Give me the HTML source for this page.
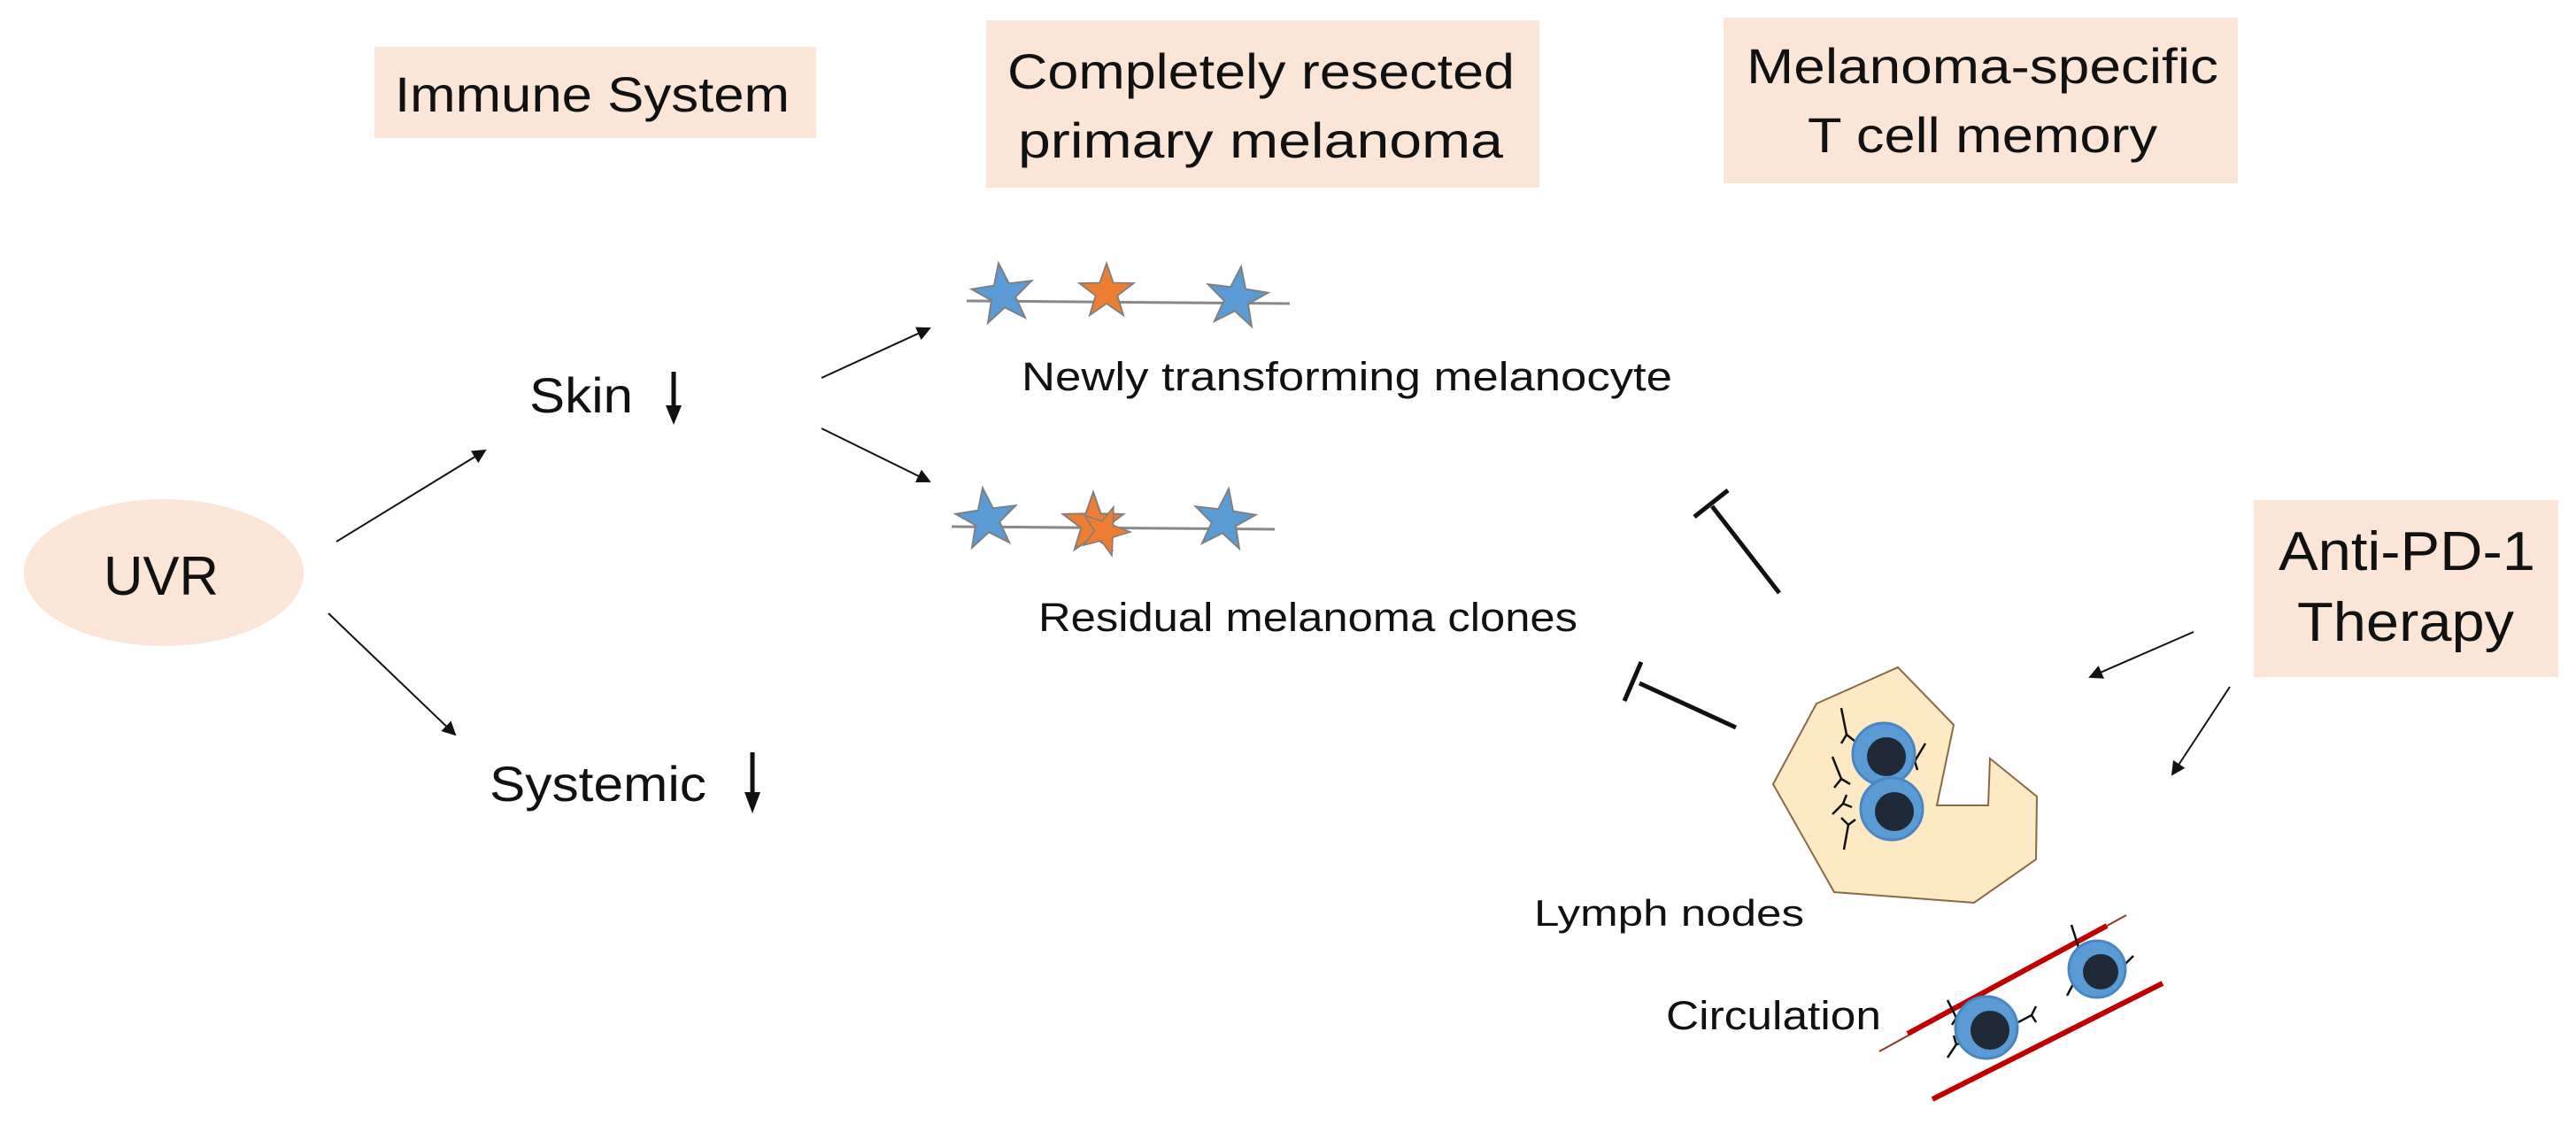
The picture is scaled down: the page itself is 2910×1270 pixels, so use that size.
<!DOCTYPE html>
<html><head><meta charset="utf-8"><style>
html,body{margin:0;padding:0;background:#fff;}
svg{display:block;}
text{font-family:"Liberation Sans",sans-serif;fill:#111;}
</style></head><body>
<svg width="2910" height="1270" viewBox="0 0 2910 1270" xmlns="http://www.w3.org/2000/svg">
<defs>
<marker id="ah" markerWidth="10" markerHeight="10" refX="9" refY="5" orient="auto" markerUnits="userSpaceOnUse">
<path d="M0,0 L10,5 L0,10 z" fill="#111"/></marker>
<marker id="ah2" markerWidth="16" markerHeight="16" refX="14" refY="8" orient="auto" markerUnits="userSpaceOnUse">
<path d="M0,0 L16,8 L0,16 z" fill="#111"/></marker>
<g id="star"><polygon points="0,-36 8.5,-11.7 34.2,-11.1 13.7,4.5 21.2,29.1 0,14.5 -21.2,29.1 -13.7,4.5 -34.2,-11.1 -8.5,-11.7" stroke="#7f7f7f" stroke-width="2"/></g>
</defs>

<!-- boxes -->
<rect x="423" y="53" width="499" height="103" fill="#fbe5d6"/>
<text x="446" y="126" font-size="56" textLength="446" lengthAdjust="spacingAndGlyphs">Immune System</text>

<rect x="1114" y="23" width="625" height="189" fill="#fbe5d6"/>
<text x="1138" y="100" font-size="56" textLength="573" lengthAdjust="spacingAndGlyphs">Completely resected</text>
<text x="1150" y="178" font-size="56" textLength="548" lengthAdjust="spacingAndGlyphs">primary  melanoma</text>

<rect x="1947" y="20" width="581" height="187" fill="#fbe5d6"/>
<text x="1973" y="94" font-size="56" textLength="533" lengthAdjust="spacingAndGlyphs">Melanoma-specific</text>
<text x="2042" y="172" font-size="56" textLength="395" lengthAdjust="spacingAndGlyphs">T cell memory</text>

<rect x="2546" y="565" width="344" height="200" fill="#fbe5d6"/>
<text x="2574" y="644" font-size="62" textLength="290" lengthAdjust="spacingAndGlyphs">Anti-PD-1</text>
<text x="2595" y="724" font-size="62" textLength="245" lengthAdjust="spacingAndGlyphs">Therapy</text>

<ellipse cx="185" cy="647" rx="158" ry="83" fill="#fbe5d6"/>
<text x="117" y="672" font-size="62" textLength="130" lengthAdjust="spacingAndGlyphs">UVR</text>

<!-- Skin / Systemic -->
<text x="598" y="466" font-size="56" textLength="117" lengthAdjust="spacingAndGlyphs">Skin</text>
<line x1="761" y1="420" x2="761" y2="462" stroke="#111" stroke-width="5"/>
<path d="M752,458 L770,458 L761,480 z" fill="#111"/>
<text x="553" y="905" font-size="56" textLength="245" lengthAdjust="spacingAndGlyphs">Systemic</text>
<line x1="850" y1="850" x2="850" y2="898" stroke="#111" stroke-width="5"/>
<path d="M841,895 L859,895 L850,919 z" fill="#111"/>

<!-- arrows -->
<g stroke="#111" stroke-width="2">
<line x1="380" y1="612" x2="548" y2="509" marker-end="url(#ah2)"/>
<line x1="371" y1="693" x2="514" y2="830" marker-end="url(#ah2)"/>
<line x1="928" y1="427" x2="1050" y2="371" marker-end="url(#ah2)"/>
<line x1="928" y1="484" x2="1050" y2="544" marker-end="url(#ah2)"/>
<line x1="2478" y1="714" x2="2361" y2="765" marker-end="url(#ah2)"/>
<line x1="2519" y1="776" x2="2454" y2="875" marker-end="url(#ah2)"/>
</g>

<!-- star lines -->
<line x1="1092" y1="340" x2="1457" y2="343" stroke="#888" stroke-width="3"/>
<g fill="#5b9bd5"><use href="#star" transform="translate(1133,333) rotate(-8)"/></g>
<g fill="#ed7d31"><use href="#star" transform="translate(1250,330) scale(0.9)"/></g>
<g fill="#5b9bd5"><use href="#star" transform="translate(1397,337) rotate(8)"/></g>

<line x1="1075" y1="595" x2="1440" y2="598" stroke="#888" stroke-width="3"/>
<g fill="#5b9bd5"><use href="#star" transform="translate(1115,587) rotate(-8)"/></g>
<g fill="#ed7d31"><use href="#star" transform="translate(1235,592)"/><use href="#star" transform="translate(1248,600) scale(0.8) rotate(20)"/></g>
<g fill="#5b9bd5"><use href="#star" transform="translate(1383,588) rotate(8)"/></g>

<text x="1154" y="441" font-size="45" textLength="735" lengthAdjust="spacingAndGlyphs">Newly transforming melanocyte</text>
<text x="1173" y="713" font-size="45" textLength="609" lengthAdjust="spacingAndGlyphs">Residual melanoma clones</text>

<!-- inhibitors -->
<g stroke="#111" stroke-width="5">
<line x1="2010" y1="670" x2="1934" y2="572"/>
<line x1="1914" y1="584" x2="1952" y2="554"/>
<line x1="1961" y1="822" x2="1852" y2="772"/>
<line x1="1835" y1="792" x2="1854" y2="748"/>
</g>

<!-- lymph node -->
<polygon points="2144,754 2207,819 2188,910 2246,910 2248,857 2301,900 2300,971 2230,1020 2072,1008 2003,886 2052,795" fill="#fde9c4" stroke="#8a6a45" stroke-width="2"/>
<g stroke="#111" stroke-width="2.5" fill="none">
<path d="M2080,800 l6,30 M2086,830 l-6,10 M2086,830 l10,8"/>
<path d="M2070,855 l10,25 l-8,10 M2080,880 l10,6"/>
<path d="M2175,840 l-12,20 l-8,-6 M2163,860 l3,10"/>
<path d="M2170,900 l-12,15 l-6,-8 M2158,915 l4,10"/>
<path d="M2070,920 l12,-12 l4,-10 M2082,908 l10,4"/>
<path d="M2083,960 l5,-28 M2088,932 l-8,-8 M2088,932 l8,-6"/>
</g>
<circle cx="2128" cy="852" r="35" fill="#5b9bd5" stroke="#4a86c0" stroke-width="3"/>
<circle cx="2131" cy="855" r="22" fill="#1f2a36"/>
<circle cx="2137" cy="914" r="35" fill="#5b9bd5" stroke="#4a86c0" stroke-width="3"/>
<circle cx="2140" cy="917" r="22" fill="#1f2a36"/>
<text x="1733" y="1046" font-size="42" textLength="305" lengthAdjust="spacingAndGlyphs">Lymph nodes</text>

<!-- circulation -->
<line x1="2123" y1="1188" x2="2402" y2="1034" stroke="#8b3a2a" stroke-width="2"/>
<line x1="2155" y1="1168" x2="2380" y2="1046" stroke="#c00000" stroke-width="6"/>
<line x1="2183" y1="1242" x2="2443" y2="1111" stroke="#c00000" stroke-width="6"/>
<g stroke="#111" stroke-width="2.5" fill="none">
<path d="M2200,1130 l10,20 l-5,8 M2210,1150 l10,-2"/>
<path d="M2280,1155 l15,-8 l5,8 M2295,1147 l5,-10"/>
<path d="M2200,1195 l10,-15 l10,-2 M2210,1180 l-3,-10"/>
<path d="M2340,1045 l8,25 M2348,1070 l-6,8"/>
<path d="M2410,1080 l-12,12 l-8,-5 M2398,1092 l2,10"/>
<path d="M2335,1125 l8,-15 l10,-2 M2343,1110 l-4,-10"/>
</g>
<circle cx="2244" cy="1161" r="35" fill="#5b9bd5" stroke="#4a86c0" stroke-width="3"/>
<circle cx="2248" cy="1164" r="22" fill="#1f2a36"/>
<circle cx="2369" cy="1095" r="32" fill="#5b9bd5" stroke="#4a86c0" stroke-width="3"/>
<circle cx="2373" cy="1098" r="20" fill="#1f2a36"/>
<text x="1882" y="1163" font-size="45" textLength="243" lengthAdjust="spacingAndGlyphs">Circulation</text>
</svg>
</body></html>
